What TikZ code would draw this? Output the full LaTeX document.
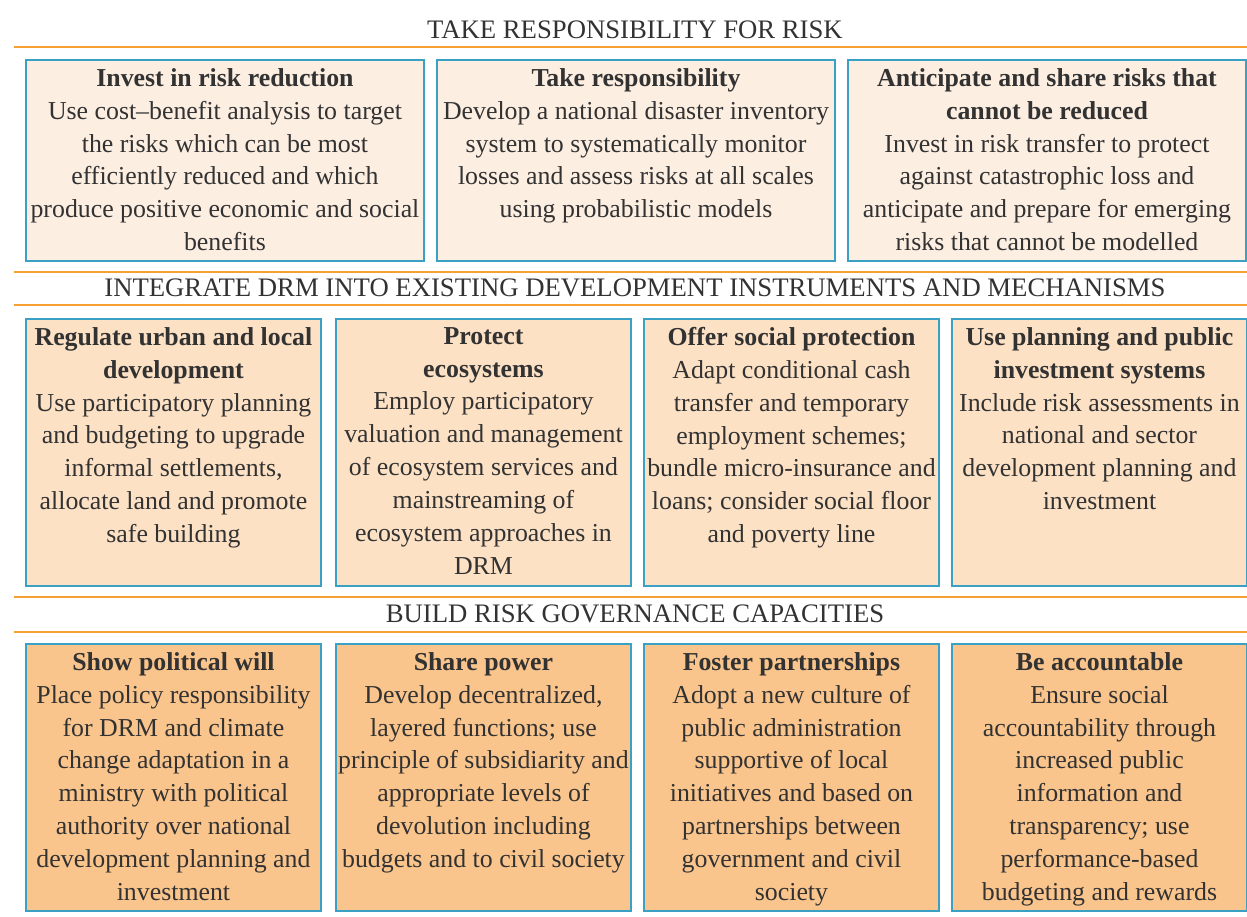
\documentclass[tikz,border=0pt]{standalone}
\usepackage{fontspec}
\setmainfont{Liberation Serif}
\usepackage{xcolor}
\definecolor{drmorange}{RGB}{247,160,50}
\definecolor{drmblue}{RGB}{58,160,196}
\definecolor{drmlight}{RGB}{253,238,226}
\definecolor{drmmid}{RGB}{252,225,197}
\definecolor{drmdark}{RGB}{250,197,140}
\definecolor{drmtext}{RGB}{50,50,50}
\usetikzlibrary{positioning}

\begin{document}
\begin{tikzpicture}[x=0.2mm,y=-0.2mm,
  rule/.style={drmorange,line width=1.1pt},
  heading/.style={font=\fontsize{15.2}{18}\selectfont,text=drmtext,inner sep=0pt},
  cellbox/.style={draw=drmblue,line width=1.1pt,anchor=north west,inner sep=0pt},
  widebox/.style={cellbox,minimum width=79.6mm,minimum height=40.2mm},
  narrowbox/.style={cellbox,minimum width=59.0mm,minimum height=53.4mm},
  celltext/.style={anchor=north,align=center,inner sep=0pt,text=drmtext,
    font=\fontsize{14.7}{18.7}\selectfont}]
  \useasboundingbox (0,0) rectangle (1247,916);
  % Section rules
  \draw[rule] (14,47) -- (1247,47);
  \draw[rule] (14,272) -- (1247,272);
  \draw[rule] (14,305) -- (1247,305);
  \draw[rule] (14,597) -- (1247,597);
  \draw[rule] (14,632) -- (1247,632);
  % Section headings
  \node[heading] (hresp) at (635,30) {TAKE RESPONSIBILITY FOR RISK};
  \node[heading] (hintegr) at (635,288) {INTEGRATE DRM INTO EXISTING DEVELOPMENT INSTRUMENTS AND MECHANISMS};
  \node[heading] (hgov) at (635,614) {BUILD RISK GOVERNANCE CAPACITIES};
  % Top row
  \node[widebox,fill=drmlight] (invest) at (25,59) {};
  \node[widebox,fill=drmlight] (takeresp) at (436,59) {};
  \node[widebox,fill=drmlight] (anticip) at (847,59) {};
  \node[celltext] (investtxt) at ([yshift=-1.8mm]invest.north)
    {\textbf{Invest in risk reduction}\\Use cost--benefit analysis to target\\the risks which can be most\\efficiently reduced and which\\produce positive economic and social\\benefits};
  \node[celltext] (takeresptxt) at ([yshift=-1.8mm]takeresp.north)
    {\textbf{Take responsibility}\\Develop a national disaster inventory\\system to systematically monitor\\losses and assess risks at all scales\\using probabilistic models};
  \node[celltext] (anticiptxt) at ([yshift=-1.8mm]anticip.north)
    {\textbf{Anticipate and share risks that}\\\textbf{cannot be reduced}\\Invest in risk transfer to protect\\against catastrophic loss and\\anticipate and prepare for emerging\\risks that cannot be modelled};
  % Middle row
  \node[narrowbox,fill=drmmid] (regulate) at (25,318) {};
  \node[narrowbox,fill=drmmid] (protect) at (335,318) {};
  \node[narrowbox,fill=drmmid] (social) at (643,318) {};
  \node[narrowbox,fill=drmmid] (planning) at (951,318) {};
  \node[celltext] (regulatetxt) at ([yshift=-1.8mm]regulate.north)
    {\textbf{Regulate urban and local}\\\textbf{development}\\Use participatory planning\\and budgeting to upgrade\\informal settlements,\\allocate land and promote\\safe building};
  \node[celltext] (protecttxt) at ([yshift=-1.8mm]protect.north)
    {\textbf{Protect}\\\textbf{ecosystems}\\Employ participatory\\valuation and management\\of ecosystem services and\\mainstreaming of\\ecosystem approaches in\\DRM};
  \node[celltext] (socialtxt) at ([yshift=-1.8mm]social.north)
    {\textbf{Offer social protection}\\Adapt conditional cash\\transfer and temporary\\employment schemes;\\bundle micro-insurance and\\loans; consider social floor\\and poverty line};
  \node[celltext] (planningtxt) at ([yshift=-1.8mm]planning.north)
    {\textbf{Use planning and public}\\\textbf{investment systems}\\Include risk assessments in\\national and sector\\development planning and\\investment};
  % Bottom row
  \node[narrowbox,fill=drmdark] (polwill) at (25,643) {};
  \node[narrowbox,fill=drmdark] (power) at (335,643) {};
  \node[narrowbox,fill=drmdark] (partner) at (643,643) {};
  \node[narrowbox,fill=drmdark] (account) at (951,643) {};
  \node[celltext] (polwilltxt) at ([yshift=-1.8mm]polwill.north)
    {\textbf{Show political will}\\Place policy responsibility\\for DRM and climate\\change adaptation in a\\ministry with political\\authority over national\\development planning and\\investment};
  \node[celltext] (powertxt) at ([yshift=-1.8mm]power.north)
    {\textbf{Share power}\\Develop decentralized,\\layered functions; use\\principle of subsidiarity and\\appropriate levels of\\devolution including\\budgets and to civil society};
  \node[celltext] (partnertxt) at ([yshift=-1.8mm]partner.north)
    {\textbf{Foster partnerships}\\Adopt a new culture of\\public administration\\supportive of local\\initiatives and based on\\partnerships between\\government and civil\\society};
  \node[celltext] (accounttxt) at ([yshift=-1.8mm]account.north)
    {\textbf{Be accountable}\\Ensure social\\accountability through\\increased public\\information and\\transparency; use\\performance-based\\budgeting and rewards};
\end{tikzpicture}
\end{document}
